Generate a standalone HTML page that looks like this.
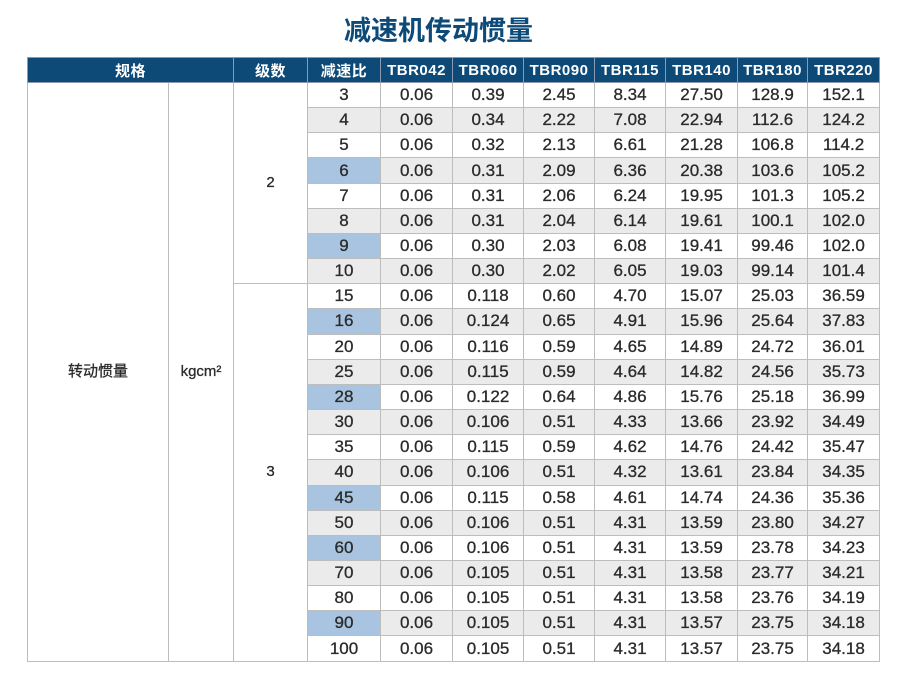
<!DOCTYPE html>
<html><head><meta charset="utf-8"><style>
body{margin:0;width:907px;height:690px;background:#fff;position:relative;font-family:"Liberation Sans","Noto Sans CJK SC",sans-serif;}
h1{position:absolute;top:11px;left:0;width:877px;text-align:center;margin:0;font-size:27px;color:#0d4a78;font-family:"Noto Sans CJK SC",sans-serif;font-weight:bold;line-height:36px;}
table{position:absolute;left:27px;top:57px;border-collapse:collapse;table-layout:fixed;width:852px;}
td,th{border:1px solid #bdbdbd;text-align:center;padding:0;font-size:17px;color:#2a2a2a;}
th{background:#0d4a78;color:#fff;height:24px;font-size:15px;border-color:#8a9bb0;font-family:"Liberation Sans","Noto Sans CJK SC",sans-serif;letter-spacing:0.5px}
td{height:24.17px;line-height:22px;-webkit-text-stroke:0.3px #2a2a2a;}
tr.g td.c{background:#ebebeb;}
td.b{background:#a9c4e0 !important;}
td.s{background:#fff;font-size:15px;}
</style></head><body>
<h1>减速机传动惯量</h1>
<table>
<colgroup><col style="width:141px"><col style="width:65px"><col style="width:74px"><col style="width:73px"><col style="width:72px"><col style="width:71px"><col style="width:71px"><col style="width:71px"><col style="width:72px"><col style="width:70px"><col style="width:72px"></colgroup>
<tr><th colspan="2">规格</th><th>级数</th><th>减速比</th><th>TBR042</th><th>TBR060</th><th>TBR090</th><th>TBR115</th><th>TBR140</th><th>TBR180</th><th>TBR220</th></tr>
<tr><td class="s" rowspan="23">转动惯量</td><td class="s" rowspan="23">kgcm²</td><td class="s" rowspan="8">2</td><td class="c">3</td><td class="c">0.06</td><td class="c">0.39</td><td class="c">2.45</td><td class="c">8.34</td><td class="c">27.50</td><td class="c">128.9</td><td class="c">152.1</td></tr>
<tr class="g"><td class="c">4</td><td class="c">0.06</td><td class="c">0.34</td><td class="c">2.22</td><td class="c">7.08</td><td class="c">22.94</td><td class="c">112.6</td><td class="c">124.2</td></tr>
<tr><td class="c">5</td><td class="c">0.06</td><td class="c">0.32</td><td class="c">2.13</td><td class="c">6.61</td><td class="c">21.28</td><td class="c">106.8</td><td class="c">114.2</td></tr>
<tr class="g"><td class="c b">6</td><td class="c">0.06</td><td class="c">0.31</td><td class="c">2.09</td><td class="c">6.36</td><td class="c">20.38</td><td class="c">103.6</td><td class="c">105.2</td></tr>
<tr><td class="c">7</td><td class="c">0.06</td><td class="c">0.31</td><td class="c">2.06</td><td class="c">6.24</td><td class="c">19.95</td><td class="c">101.3</td><td class="c">105.2</td></tr>
<tr class="g"><td class="c">8</td><td class="c">0.06</td><td class="c">0.31</td><td class="c">2.04</td><td class="c">6.14</td><td class="c">19.61</td><td class="c">100.1</td><td class="c">102.0</td></tr>
<tr><td class="c b">9</td><td class="c">0.06</td><td class="c">0.30</td><td class="c">2.03</td><td class="c">6.08</td><td class="c">19.41</td><td class="c">99.46</td><td class="c">102.0</td></tr>
<tr class="g"><td class="c">10</td><td class="c">0.06</td><td class="c">0.30</td><td class="c">2.02</td><td class="c">6.05</td><td class="c">19.03</td><td class="c">99.14</td><td class="c">101.4</td></tr>
<tr><td class="s" rowspan="15">3</td><td class="c">15</td><td class="c">0.06</td><td class="c">0.118</td><td class="c">0.60</td><td class="c">4.70</td><td class="c">15.07</td><td class="c">25.03</td><td class="c">36.59</td></tr>
<tr class="g"><td class="c b">16</td><td class="c">0.06</td><td class="c">0.124</td><td class="c">0.65</td><td class="c">4.91</td><td class="c">15.96</td><td class="c">25.64</td><td class="c">37.83</td></tr>
<tr><td class="c">20</td><td class="c">0.06</td><td class="c">0.116</td><td class="c">0.59</td><td class="c">4.65</td><td class="c">14.89</td><td class="c">24.72</td><td class="c">36.01</td></tr>
<tr class="g"><td class="c">25</td><td class="c">0.06</td><td class="c">0.115</td><td class="c">0.59</td><td class="c">4.64</td><td class="c">14.82</td><td class="c">24.56</td><td class="c">35.73</td></tr>
<tr><td class="c b">28</td><td class="c">0.06</td><td class="c">0.122</td><td class="c">0.64</td><td class="c">4.86</td><td class="c">15.76</td><td class="c">25.18</td><td class="c">36.99</td></tr>
<tr class="g"><td class="c">30</td><td class="c">0.06</td><td class="c">0.106</td><td class="c">0.51</td><td class="c">4.33</td><td class="c">13.66</td><td class="c">23.92</td><td class="c">34.49</td></tr>
<tr><td class="c">35</td><td class="c">0.06</td><td class="c">0.115</td><td class="c">0.59</td><td class="c">4.62</td><td class="c">14.76</td><td class="c">24.42</td><td class="c">35.47</td></tr>
<tr class="g"><td class="c">40</td><td class="c">0.06</td><td class="c">0.106</td><td class="c">0.51</td><td class="c">4.32</td><td class="c">13.61</td><td class="c">23.84</td><td class="c">34.35</td></tr>
<tr><td class="c b">45</td><td class="c">0.06</td><td class="c">0.115</td><td class="c">0.58</td><td class="c">4.61</td><td class="c">14.74</td><td class="c">24.36</td><td class="c">35.36</td></tr>
<tr class="g"><td class="c">50</td><td class="c">0.06</td><td class="c">0.106</td><td class="c">0.51</td><td class="c">4.31</td><td class="c">13.59</td><td class="c">23.80</td><td class="c">34.27</td></tr>
<tr><td class="c b">60</td><td class="c">0.06</td><td class="c">0.106</td><td class="c">0.51</td><td class="c">4.31</td><td class="c">13.59</td><td class="c">23.78</td><td class="c">34.23</td></tr>
<tr class="g"><td class="c">70</td><td class="c">0.06</td><td class="c">0.105</td><td class="c">0.51</td><td class="c">4.31</td><td class="c">13.58</td><td class="c">23.77</td><td class="c">34.21</td></tr>
<tr><td class="c">80</td><td class="c">0.06</td><td class="c">0.105</td><td class="c">0.51</td><td class="c">4.31</td><td class="c">13.58</td><td class="c">23.76</td><td class="c">34.19</td></tr>
<tr class="g"><td class="c b">90</td><td class="c">0.06</td><td class="c">0.105</td><td class="c">0.51</td><td class="c">4.31</td><td class="c">13.57</td><td class="c">23.75</td><td class="c">34.18</td></tr>
<tr><td class="c">100</td><td class="c">0.06</td><td class="c">0.105</td><td class="c">0.51</td><td class="c">4.31</td><td class="c">13.57</td><td class="c">23.75</td><td class="c">34.18</td></tr>
</table>
</body></html>
